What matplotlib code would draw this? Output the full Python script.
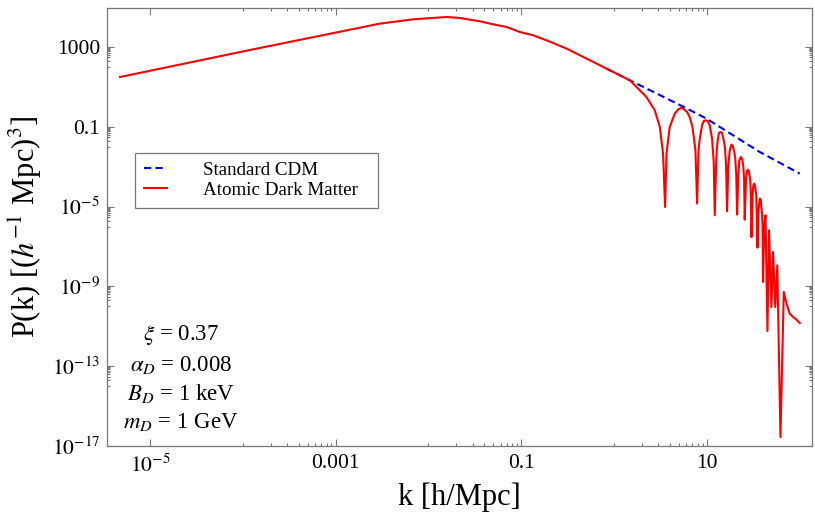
import matplotlib

matplotlib.use("Agg")
import matplotlib.pyplot as plt
import numpy as np
from matplotlib.ticker import FixedLocator, FixedFormatter, NullFormatter

plt.rcParams["font.family"] = "serif"
plt.rcParams["font.serif"] = ["Liberation Serif", "DejaVu Serif"]
plt.rcParams["mathtext.fontset"] = "stix"

# --- values (log10 k [h/Mpc], log10 P(k)) --------------------------------------------
ADM_LOG_K = [-5.323, -3.923, -2.522, -2.164, -1.804, -1.661, -1.445, -1.302, -1.158,
             -1.014, -0.871, -0.727, -0.511, -0.296, -0.080, 0.171, 0.350, 0.440,
             0.494, 0.529, 0.551, 0.566, 0.601, 0.655, 0.693, 0.731, 0.788, 0.817,
             0.846, 0.878, 0.896, 0.911, 0.925, 0.949, 0.968, 0.989, 1.011, 1.032,
             1.057, 1.075, 1.086, 1.102, 1.110, 1.118, 1.131, 1.148, 1.165, 1.183,
             1.197, 1.208, 1.219, 1.232, 1.248, 1.266, 1.280, 1.297, 1.307, 1.318,
             1.327, 1.340, 1.351, 1.366, 1.380, 1.393, 1.402, 1.409, 1.423, 1.431,
             1.442, 1.455, 1.469, 1.475, 1.482, 1.494, 1.501, 1.510, 1.520, 1.534,
             1.546, 1.558, 1.571, 1.582, 1.596, 1.601, 1.607, 1.620, 1.633, 1.654,
             1.671, 1.697, 1.714, 1.738, 1.760, 1.794, 1.830, 1.859, 1.894, 1.930,
             1.966, 2.002]
ADM_LOG_P = [1.496, 2.850, 4.173, 4.388, 4.504, 4.454, 4.288, 4.138, 4.003,
             3.752, 3.586, 3.336, 2.920, 2.419, 1.917, 1.331, 0.494, -0.173,
             -1.010, -2.343, -5.020, -2.343, -1.010, -0.338, -0.123, -0.038, -0.258, -0.524,
             -1.010, -2.178, -4.850, -2.178, -1.591, -0.925, -0.709, -0.674, -0.709, -0.925,
             -1.591, -2.764, -5.436, -2.679, -2.028, -1.677, -1.301, -1.259, -1.316, -1.677,
             -2.078, -2.930, -5.236, -2.930, -2.178, -1.892, -1.952, -2.278, -2.579, -3.431,
             -5.401, -3.431, -2.679, -2.514, -2.604, -2.930, -3.581, -5.652, -3.679, -3.256,
             -3.145, -3.231, -3.679, -4.433, -6.524, -4.433, -3.957, -3.847, -3.957, -4.433,
             -7.055, -5.185, -4.599, -4.659, -5.436, -5.937, -8.779, -5.937, -5.436, -11.236,
             -6.188, -10.033, -7.276, -10.033, -7.943, -16.549, -9.281, -9.862, -10.363, -10.534,
             -10.664, -10.835]

CDM_LOG_K = [-0.080, 0.171, 0.738, 0.997, 1.571, 2.002]
CDM_LOG_P = [1.917, 1.331, 0.028, -0.589, -2.263, -3.346]

X_MAJOR = [1e-5, 1e-3, 1e-1, 1e1]
X_LABELS = [r"$10^{-5}$", "0.001", "0.1", "10"]
Y_MAJOR = [1e3, 1e-1, 1e-5, 1e-9, 1e-13, 1e-17]
Y_LABELS = ["1000", "0.1", r"$10^{-5}$", r"$10^{-9}$", r"$10^{-13}$", r"$10^{-17}$"]

PARAMS = [r"$\xi$ = 0.37", r"$\alpha_D$ = 0.008", r"$B_D$ = 1 keV", r"$m_D$ = 1 GeV"]

FRAME = "#777777"


def main():
    fig = plt.figure(figsize=(8.15, 5.16), dpi=100)
    ax = fig.add_axes([107 / 815, 70 / 516, 705 / 815, 438 / 516])

    k_cdm = 10 ** np.array(CDM_LOG_K)
    p_cdm = 10 ** np.array(CDM_LOG_P)
    k_adm = 10 ** np.array(ADM_LOG_K)
    p_adm = 10 ** np.array(ADM_LOG_P)

    ax.plot(k_cdm, p_cdm, color="#0000ff", linewidth=1.5, dashes=(3.5, 2.0),
            label="Standard CDM", zorder=2)
    ax.plot(k_adm, p_adm, color="#ff0000", linewidth=1.5, solid_joinstyle="round",
            label="Atomic Dark Matter", zorder=3)

    ax.set_xscale("log")
    ax.set_yscale("log")
    ax.set_xlim(10 ** -5.463, 10 ** 2.134)
    ax.set_ylim(1e-17, 10 ** 4.955)

    ax.xaxis.set_major_locator(FixedLocator(X_MAJOR))
    ax.xaxis.set_major_formatter(FixedFormatter(X_LABELS))
    ax.yaxis.set_major_locator(FixedLocator(Y_MAJOR))
    ax.yaxis.set_major_formatter(FixedFormatter(Y_LABELS))

    # minor ticks fill the decade just below each labelled tick (Mathematica style)
    x_minor = [m * v / 10 for v in X_MAJOR[1:] for m in range(1, 10)]
    y_minor = [m * v / 10 for v in Y_MAJOR[:-1] for m in range(1, 10)]
    ax.xaxis.set_minor_locator(FixedLocator(x_minor))
    ax.yaxis.set_minor_locator(FixedLocator(y_minor))
    ax.xaxis.set_minor_formatter(NullFormatter())
    ax.yaxis.set_minor_formatter(NullFormatter())

    ax.tick_params(which="both", direction="in", top=True, right=True,
                   color=FRAME, width=0.8, labelsize=15.5, labelcolor="black")
    ax.tick_params(which="major", length=5)
    ax.tick_params(which="minor", length=2.5)
    ax.tick_params(axis="x", which="major", pad=6)
    ax.tick_params(axis="y", which="major", pad=5)
    for s in ax.spines.values():
        s.set_color(FRAME)
        s.set_linewidth(0.9)

    ax.set_xlabel("k [h/Mpc]", fontsize=22, labelpad=4)
    ax.set_ylabel(r"P(k) [($h^{-1}$ Mpc)$^3$]", fontsize=22)
    ax.yaxis.set_label_coords(-0.089, 0.5)

    leg = ax.legend(loc="upper left", bbox_to_anchor=(0.0397, 0.548, 0.3447, 0.121),
                    mode="expand", borderaxespad=0, fontsize=13.7, handlelength=1.25,
                    handletextpad=1.9, labelspacing=0.15, borderpad=0.45,
                    fancybox=False, framealpha=1)
    leg.get_frame().set_edgecolor(FRAME)
    leg.get_frame().set_linewidth(0.9)

    for txt, yy in zip(PARAMS, [0.253, 0.185, 0.121, 0.055]):
        ax.text(0.105, yy, txt, transform=ax.transAxes, ha="center", va="center",
                fontsize=16.5)

    fig.savefig("out.png", dpi=100, facecolor="white")


if __name__ == "__main__":
    main()
